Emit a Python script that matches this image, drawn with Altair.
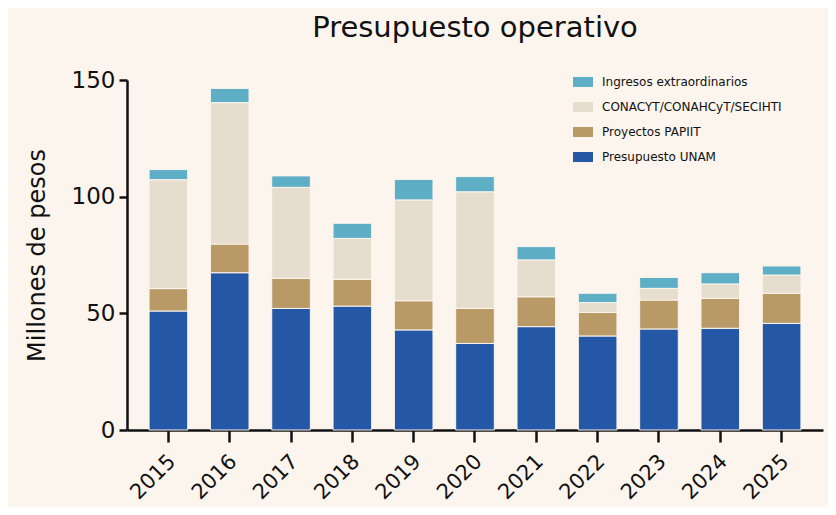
import altair as alt
import pandas as pd

years = ["2015", "2016", "2017", "2018", "2019", "2020", "2021", "2022", "2023", "2024", "2025"]
unam = [51.0, 67.4, 52.1, 53.1, 42.9, 37.1, 44.3, 40.3, 43.3, 43.6, 45.7]
papiit = [9.6, 12.3, 12.9, 11.5, 12.5, 15.0, 12.8, 10.1, 12.4, 12.8, 12.9]
conacyt = [46.7, 60.6, 39.0, 17.5, 43.2, 50.0, 15.8, 4.2, 5.0, 6.2, 7.8]
ingresos = [4.3, 6.1, 4.9, 6.5, 8.8, 6.5, 5.7, 4.0, 4.7, 4.8, 3.9]

series = ["Ingresos extraordinarios", "CONACYT/CONAHCyT/SECIHTI", "Proyectos PAPIIT", "Presupuesto UNAM"]
colors = ["#5eaec6", "#e6ddce", "#b99a66", "#2557a7"]
stack_rank = {"Presupuesto UNAM": 0, "Proyectos PAPIIT": 1, "CONACYT/CONAHCyT/SECIHTI": 2, "Ingresos extraordinarios": 3}

rows = []
for i, y in enumerate(years):
    for name, vals in zip(["Presupuesto UNAM", "Proyectos PAPIIT", "CONACYT/CONAHCyT/SECIHTI", "Ingresos extraordinarios"],
                          [unam, papiit, conacyt, ingresos]):
        rows.append({"year": y, "serie": name, "value": vals[i], "rank": stack_rank[name]})
df = pd.DataFrame(rows)

bg = "#fcf5ee"
font = "DejaVu Sans"

chart = alt.Chart(df).mark_bar(stroke=bg, strokeWidth=1).encode(
    x=alt.X("year:N", sort=years,
            scale=alt.Scale(paddingInner=0.37, paddingOuter=0.36),
            axis=alt.Axis(title=None, labelAngle=315, labelFontSize=21, labelFont=font,
                          labelColor="#111", domainColor="#111", domainWidth=2.5,
                          tickColor="#111", tickWidth=2.5, tickSize=12, labelPadding=16,
                          labelOffset=4, labelAlign="right", labelBaseline="middle")),
    y=alt.Y("value:Q", stack="zero",
            scale=alt.Scale(domain=[0, 150], nice=False),
            axis=alt.Axis(title="Millones de pesos", values=[0, 50, 100, 150], grid=False,
                          labelFontSize=23, labelFont=font, labelColor="#111",
                          titleFontSize=24, titleFont=font, titleFontWeight="normal",
                          titleColor="#111", titlePadding=22,
                          domainColor="#111", domainWidth=2.5, tickColor="#111",
                          tickWidth=2.5, tickSize=8, labelPadding=4)),
    color=alt.Color("serie:N", scale=alt.Scale(domain=series, range=colors),
                    legend=alt.Legend(title=None, orient="none", legendX=446, legendY=-8,
                                      symbolType="M-1,-0.5H1V0.5H-1Z", symbolSize=400,
                                      symbolStrokeWidth=0, labelFontSize=12, labelFont=font,
                                      labelColor="#111", rowPadding=9, labelOffset=9,
                                      labelLimit=400)),
    order=alt.Order("rank:Q", sort="ascending"),
).properties(
    width=696, height=350,
    title=alt.TitleParams("Presupuesto operativo", fontSize=29, font=font,
                          fontWeight="normal", color="#111", anchor="middle", offset=26),
    background=bg,
    padding={"left": 119, "top": 72, "right": 5, "bottom": 77},
    autosize=alt.AutoSizeParams(type="none"),
).configure_view(stroke=None)

chart.save("out.html", embed_options={"renderer": "svg", "actions": False})
